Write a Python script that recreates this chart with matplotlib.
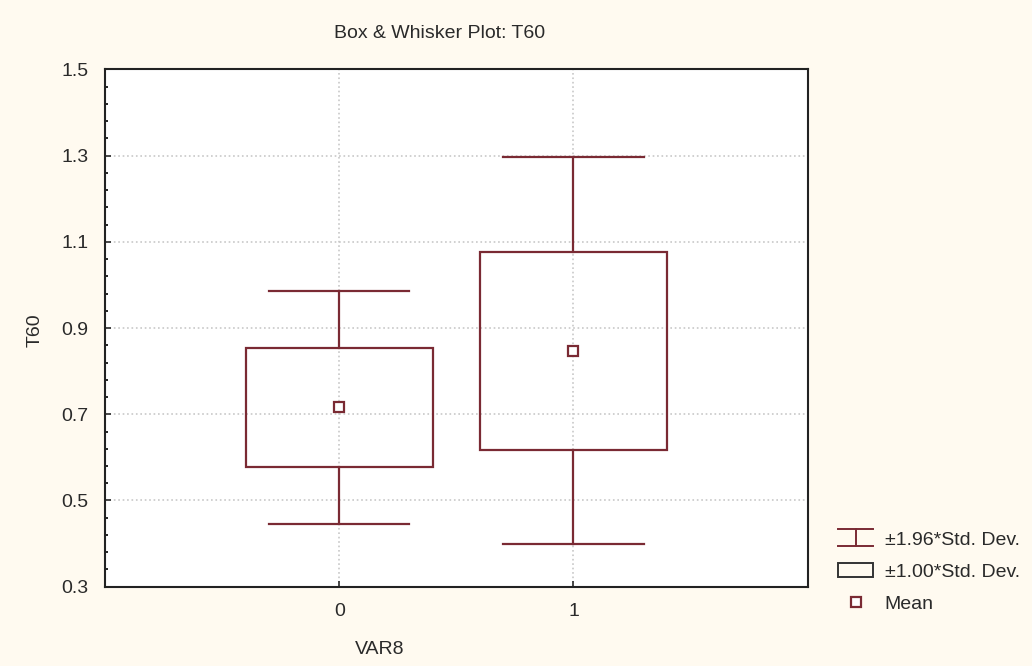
import matplotlib
matplotlib.use("Agg")
from matplotlib import pyplot as plt
from matplotlib.lines import Line2D
from matplotlib.patches import Rectangle
from matplotlib.legend_handler import HandlerBase
import numpy as np

# Data
groups = ["0", "1"]
means = [0.716, 0.847]
sds = [0.138, 0.229]
k_whisk = 1.96

red = "#7a2a33"
bg = "#fffaf0"
txt = "#2a2a2a"
plt.rcParams["font.family"] = ["Liberation Sans", "DejaVu Sans"]


class HandlerIBeam(HandlerBase):  # the little "工" symbol in the legend
    def create_artists(self, legend, orig_handle, xd, yd, w, h, fs, trans):
        cy = h / 2 - yd
        x0, x1 = -xd, -xd + w
        half = h * 0.62
        top = Line2D([x0, x1], [cy + half, cy + half], color=red, lw=1.4)
        bot = Line2D([x0, x1], [cy - half, cy - half], color=red, lw=1.4)
        mid = Line2D([(x0 + x1) / 2] * 2, [cy - half, cy + half], color=red, lw=1.4)
        arts = [top, bot, mid]
        for a in arts:
            a.set_transform(trans)
        return arts


fig = plt.figure(figsize=(10.32, 6.66), dpi=100, facecolor=bg)
ax = fig.add_axes([0.1017, 0.119, 0.681, 0.777])
ax.set_facecolor("white")

x = np.arange(len(groups))
box_w = 0.4
cap_w = 0.3
for xi, m, s in zip(x, means, sds):
    lo, hi = m - s, m + s
    wlo, whi = m - k_whisk * s, m + k_whisk * s
    ax.add_patch(Rectangle((xi - box_w, lo), 2 * box_w, hi - lo,
                           fill=False, ec=red, lw=1.6, zorder=3))
    ax.plot([xi, xi], [hi, whi], color=red, lw=1.6, zorder=3)
    ax.plot([xi, xi], [wlo, lo], color=red, lw=1.6, zorder=3)
    ax.plot([xi - cap_w, xi + cap_w], [whi, whi], color=red, lw=1.6, zorder=3)
    ax.plot([xi - cap_w, xi + cap_w], [wlo, wlo], color=red, lw=1.6, zorder=3)
ax.plot(x, means, "s", ms=7, mfc="white", mec=red, mew=1.6, ls="none", zorder=4)

ax.set_xlim(-1, 2)
ax.set_ylim(0.3, 1.5)
ax.set_xticks(x)
ax.set_xticklabels(groups)
ax.set_yticks(np.arange(0.3, 1.51, 0.2))
ax.set_yticklabels(["0.3", "0.5", "0.7", "0.9", "1.1", "1.3", "1.5"])
ax.set_yticks(np.arange(0.3, 1.51, 0.04), minor=True)
ax.tick_params(axis="both", direction="in", labelsize=14, length=4, width=1.2,
               colors=txt, pad=12)
ax.tick_params(axis="y", which="minor", direction="in", length=2.5, width=1.2)
ax.tick_params(axis="x", pad=12)
ax.grid(True, which="major", ls=":", color="#c8c8c8", lw=1.2)
ax.set_axisbelow(True)
for sp in ax.spines.values():
    sp.set_linewidth(1.5)
    sp.set_color("#222222")

fig.text(440 / 1032, 1 - 33 / 666, "Box & Whisker Plot: T60", ha="center",
         va="center", fontsize=14, color=txt)
fig.text(380 / 1032, 1 - 650 / 666, "VAR8", ha="center", va="center",
         fontsize=14, color=txt)
fig.text(35 / 1032, 1 - 330 / 666, "T60", ha="center", va="center",
         fontsize=14, rotation=90, color=txt)

h1 = object()
h2 = Rectangle((0, 0), 1, 1, fill=False, ec="#333333", lw=1.4)
h3 = Line2D([], [], marker="s", ms=7, mfc="white", mec=red, mew=1.6, ls="none")
fig.legend([h1, h2, h3],
           ["±1.96*Std. Dev.", "±1.00*Std. Dev.", "Mean"],
           handler_map={h1: HandlerIBeam()},
           loc="upper left", bbox_to_anchor=(838 / 1032, 1 - 531 / 666),
           frameon=False, fontsize=14, handlelength=1.8, handleheight=0.7,
           handletextpad=0.6, labelspacing=0.75, borderaxespad=0,
           borderpad=0, labelcolor=txt)

plt.savefig("out.png", dpi=100, facecolor=bg)
